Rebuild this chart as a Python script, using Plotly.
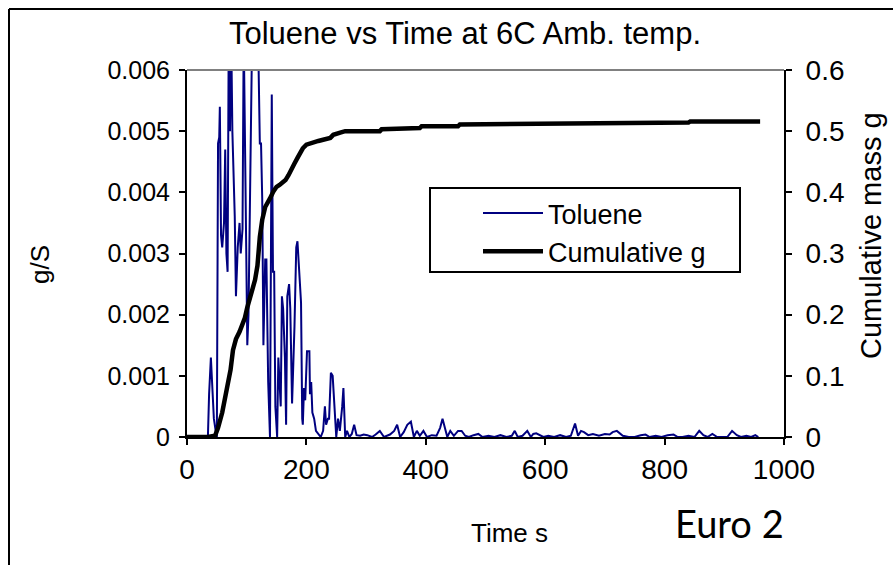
import plotly.graph_objects as go

# Toluene emission rate (g/s) vs time (s)
tol_time = [0, 10, 20, 30, 35, 37, 40, 42, 45, 48, 50, 52, 54, 55, 57, 59, 62, 64, 66, 68,
            70, 72, 74, 76, 78, 80, 82, 85, 88, 90, 93, 95, 98, 101, 103, 106, 109, 111,
            113, 116, 119, 122, 124, 126, 128, 131, 133, 136, 139, 142, 144, 146, 148,
            151, 153, 155, 157, 159, 161, 164, 166, 168, 171, 173, 176, 180, 183, 185,
            188, 191, 193, 194, 196, 198, 201, 205, 206, 208, 210, 213, 216, 220, 224,
            228, 231, 233, 236, 238, 241, 244, 247, 250, 253, 256, 260, 262, 265, 268,
            272, 276, 280, 284, 290, 296, 302, 310, 316, 323, 330, 340, 347, 352, 357,
            363, 369, 375, 380, 385, 390, 396, 402, 410, 418, 424, 428, 432, 436, 441,
            447, 454, 460, 466, 472, 480, 488, 495, 505, 515, 525, 535, 544, 549, 554,
            562, 570, 576, 580, 585, 590, 597, 605, 615, 625, 635, 643, 650, 655, 660,
            665, 672, 680, 690, 700, 708, 713, 720, 730, 740, 750, 760, 768, 775, 785,
            795, 805, 815, 822, 830, 840, 850, 858, 865, 872, 880, 888, 895, 905, 913,
            921, 928, 937, 945, 952, 957, 960]
tol_gs = [0, 0, 0, 0, 0, 0.0007, 0.0013, 0.0009, 0.0003, 0.0001, 0, 0.0048, 0.0049, 0.0054,
          0.0033, 0.0031, 0.0035, 0.0047, 0.0030, 0.0027, 0.0068, 0.0050, 0.0066, 0.0050,
          0.0044, 0.0036, 0.0023, 0.0031, 0.0035, 0.0030, 0.0034, 0.0066, 0.0041, 0.0015,
          0.0020, 0.0041, 0.0065, 0.0062, 0.0070, 0.0064, 0.0066, 0.0048, 0.0048, 0.0039,
          0.0015, 0.0029, 0.0029, 0.0009, 0.0000, 0.0056, 0.0027, 0.0027, 0.0005, 0.0000,
          0.0013, 0.0009, 0.0005, 0.0023, 0.0021, 0.0013, 0.0002, 0.0023, 0.0025, 0.0021,
          0.00055, 0.0018, 0.0031, 0.0032, 0.0027, 0.0022, 0.0003, 0.0002, 0.0008, 0.0006,
          0.0014, 0.0014, 0.0007, 0.0009, 0.0004, 0.0003, 0.0001, 0.00005, 0.0000,
          0.0001, 0.0005, 0.0002, 0.0003, 0.0003, 0.00105, 0.0010, 0.0005, 0.0000, 0.0003,
          0.0001, 0.0005, 0.0008, 0.0000, 0.0001, 0.0000, 0.00005, 0.0002, 0.00003,
          0.00002, 0.00004, 0.00003, 0.0, 0.00004, 0.0001, 0.0, 0.00004, 0.0001, 0.0002,
          0.0, 0.00008, 0.0002, 0.00025, 0.0, 0.0001, 0.00002, 0.0001, 0.0, 0.00003,
          0.00002, 0.00015, 0.0003, 0.00015, 0.0, 0.0001, 0.00002, 0.0001, 0.0001, 0.00002,
          0.0, 0.00003, 0.00005, 0.0, 0.00002, 0.0, 0.00003, 0.0, 0.00002, 0.0001, 0.0,
          0.00002, 0.0001, 0.0, 0.00005, 0.00006, 0.00004, 0.0, 0.00002, 0.0, 0.00003, 0.0,
          0.00002, 0.00022, 0.00002, 0.0001, 0.00008, 0.00003, 0.00005, 0.00002, 0.00005,
          0.00004, 0.00008, 0.0001, 0.00002, 0.0, 0.0, 0.00003, 0.00004, 0.0, 0.00002, 0.0,
          0.00003, 0.00004, 0.0, 0.0, 0.00002, 0.0, 0.0001, 0.00003, 0.0, 0.00005, 0.0,
          0.0, 0.0, 0.0001, 0.00003, 0.0, 0.00002, 0.0, 0.00003, 0.0]

# Cumulative mass (g) vs time (s)
cum_time = [0, 35, 47, 52, 59, 65, 69, 73, 77, 82, 88, 93, 97, 101, 105, 110, 114, 118, 122,
            126, 131, 135, 139, 145, 150, 155, 160, 165, 170, 175, 180, 186, 190, 194, 200,
            205, 211, 220, 228, 240, 245, 250, 258, 265, 300, 323, 326, 360, 390, 393, 454,
            457, 600, 700, 840, 843, 960]
cum_g = [0, 0, 0.002, 0.015, 0.04, 0.07, 0.088, 0.11, 0.142, 0.16, 0.172, 0.185, 0.195,
         0.212, 0.229, 0.243, 0.257, 0.28, 0.327, 0.355, 0.376, 0.385, 0.39, 0.402, 0.409,
         0.412, 0.415, 0.42, 0.428, 0.436, 0.447, 0.458, 0.466, 0.472, 0.478, 0.48, 0.482,
         0.484, 0.486, 0.489, 0.494, 0.496, 0.498, 0.5, 0.5, 0.5, 0.503, 0.504, 0.505,
         0.508, 0.508, 0.511, 0.512, 0.513, 0.514, 0.516, 0.516]

left_ticks = [0, 0.001, 0.002, 0.003, 0.004, 0.005, 0.006]
left_labels = ["0", "0.001", "0.002", "0.003", "0.004", "0.005", "0.006"]
right_ticks = [0, 0.1, 0.2, 0.3, 0.4, 0.5, 0.6]
right_labels = ["0", "0.1", "0.2", "0.3", "0.4", "0.5", "0.6"]
x_ticks = [0, 200, 400, 600, 800, 1000]

FONT = "Liberation Sans, Arial, sans-serif"
W, H = 893, 565
L, R, T, B = 187, 893 - 784, 70, 565 - 437
PW, PH = W - L - R, H - T - B

def px(xp):
    return (xp - L) / PW

def py(yp):
    return (H - B - yp) / PH

fig = go.Figure()
fig.add_trace(go.Scatter(x=tol_time, y=tol_gs, name="Toluene", mode="lines",
                         line=dict(color="#000080", width=2)))
fig.add_trace(go.Scatter(x=cum_time, y=cum_g, name="Cumulative g", mode="lines",
                         line=dict(color="black", width=4.5), yaxis="y2"))

fig.update_layout(
    width=W, height=H,
    margin=dict(l=L, r=R, t=T, b=B),
    paper_bgcolor="white", plot_bgcolor="white",
    font=dict(family=FONT, size=28, color="black"),
    title=dict(text="Toluene vs Time at 6C Amb. temp.", x=465 / W, xref="container",
               xanchor="center", y=1 - 33 / H, yref="container", yanchor="middle",
               font=dict(family=FONT, size=31, color="black")),
    xaxis=dict(range=[0, 1000], tickvals=x_ticks, showgrid=False, zeroline=False,
               showline=True, linecolor="black", linewidth=2, ticks="outside",
               ticklen=6, tickwidth=2, tickcolor="black",
               tickfont=dict(family=FONT, size=28)),
    yaxis=dict(range=[0, 0.006], tickvals=left_ticks, ticktext=left_labels,
               showgrid=False, zeroline=False, showline=True, linecolor="black",
               linewidth=2, ticks="outside", ticklen=6, tickwidth=2, tickcolor="black",
               ticklabelstandoff=4, tickfont=dict(family=FONT, size=25)),
    yaxis2=dict(range=[0, 0.6], tickvals=right_ticks, ticktext=right_labels,
                overlaying="y", side="right", showgrid=False, zeroline=False,
                showline=True, linecolor="black", linewidth=2, ticks="outside",
                ticklen=6, tickwidth=2, tickcolor="black", ticklabelstandoff=8,
                tickfont=dict(family=FONT, size=28)),
    showlegend=True,
    legend=dict(x=px(478), y=py(189), xanchor="left", yanchor="top",
                bgcolor="rgba(0,0,0,0)", borderwidth=0, itemwidth=60,
                font=dict(family=FONT, size=27, color="black")),
    shapes=[
        # legend frame
        dict(type="rect", xref="paper", yref="paper", x0=px(430), x1=px(740),
             y0=py(272), y1=py(188), line=dict(color="black", width=2)),
        # grey top border of plot area
        dict(type="line", xref="paper", yref="paper", x0=0, x1=1, y0=1, y1=1,
             line=dict(color="#808080", width=2)),
        # outer chart frame (left and top edges)
        dict(type="line", xref="paper", yref="paper", x0=px(9), x1=px(9),
             y0=py(H + 5), y1=py(9), line=dict(color="black", width=2)),
        dict(type="line", xref="paper", yref="paper", x0=px(9), x1=px(W + 5),
             y0=py(9), y1=py(9), line=dict(color="black", width=2)),
    ],
    annotations=[
        dict(text="g/S", xref="paper", yref="paper", x=px(40), y=py(265),
             showarrow=False, textangle=-90, xanchor="center", yanchor="middle",
             font=dict(family=FONT, size=26)),
        dict(text="Cumulative mass g", xref="paper", yref="paper", x=px(871), y=py(236),
             showarrow=False, textangle=-90, xanchor="center", yanchor="middle",
             font=dict(family=FONT, size=29)),
        dict(text="Time s", xref="paper", yref="paper", x=px(509), y=py(533),
             showarrow=False, xanchor="center", yanchor="middle",
             font=dict(family=FONT, size=26)),
        dict(text="Euro 2", xref="paper", yref="paper", x=px(729), y=py(523),
             showarrow=False, xanchor="center", yanchor="middle",
             font=dict(family="Liberation Sans Narrow, Lato, sans-serif", size=38)),
    ],
)

fig.write_html("out.html")
